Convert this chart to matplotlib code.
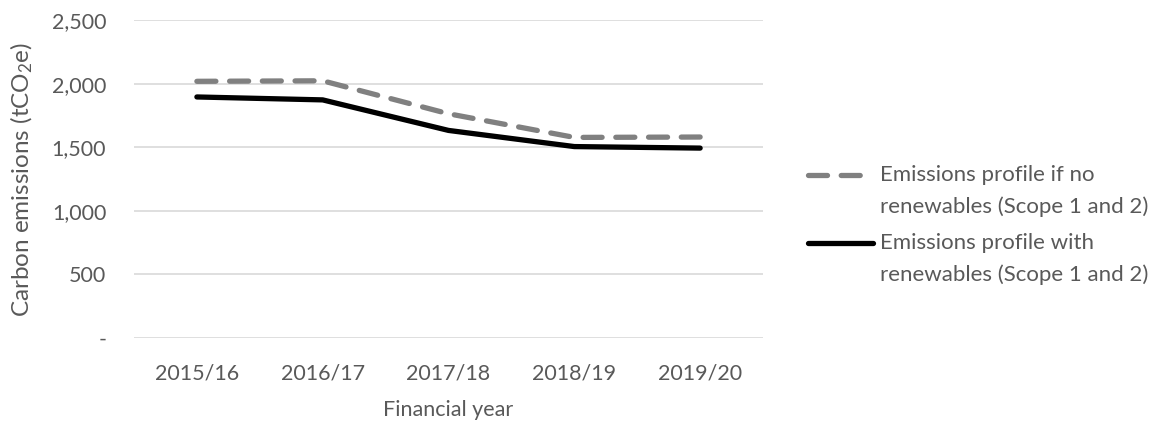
import matplotlib
matplotlib.use("Agg")
import matplotlib.pyplot as plt
from matplotlib.ticker import FuncFormatter, MultipleLocator
from matplotlib.legend_handler import HandlerLine2D

years = ["2015/16", "2016/17", "2017/18", "2018/19", "2019/20"]
no_renewables = [2018, 2022, 1763, 1577, 1580]
with_renewables = [1895, 1872, 1632, 1505, 1493]
label_no = "Emissions profile if no\nrenewables (Scope 1 and 2)"
label_with = "Emissions profile with\nrenewables (Scope 1 and 2)"

plt.rcParams['font.family'] = ['Lato', 'DejaVu Sans']
plt.rcParams['mathtext.fontset'] = 'custom'
plt.rcParams['mathtext.rm'] = 'Lato'
plt.rcParams['mathtext.it'] = 'Lato'
text_color = "#595959"


class TopAlignedHandler(HandlerLine2D):
    """Place the legend line next to the first line of a two-line label."""
    def create_artists(self, legend, orig_handle, xdescent, ydescent,
                       width, height, fontsize, trans):
        artists = super().create_artists(legend, orig_handle, xdescent, ydescent,
                                         width, height, fontsize, trans)
        for a in artists:
            yd = a.get_ydata()
            a.set_ydata([v + 0.72 * fontsize for v in yd])
        return artists


fig = plt.figure(figsize=(11.57, 4.22), dpi=100)
ax = fig.add_axes([0.1158, 0.199, 0.5437, 0.7536])

x = list(range(len(years)))
l1, = ax.plot(x, no_renewables, color="#808080", lw=3.8, dash_capstyle='round',
              dash_joinstyle='round', dashes=(3.6, 2.6), label=label_no)
l2, = ax.plot(x, with_renewables, color="black", lw=3.8, solid_capstyle='round',
              solid_joinstyle='round', label=label_with)

ax.set_xlim(-0.5, len(years) - 0.5)
ax.set_ylim(0, 2500)
ax.yaxis.set_major_locator(MultipleLocator(500))
ax.yaxis.set_major_formatter(FuncFormatter(lambda v, p: "-" if v == 0 else f"{int(v):,}"))
ax.set_xticks(x)
ax.set_xticklabels(years)
ax.grid(axis='y', color="#d9d9d9", lw=1.2)
ax.set_axisbelow(True)
for s in ax.spines.values():
    s.set_visible(False)
ax.tick_params(axis='both', length=0, labelsize=15.5, colors=text_color)
ax.tick_params(axis='y', pad=20)
ax.tick_params(axis='x', pad=18)
ax.set_xlabel("Financial year", fontsize=15.5, color=text_color, labelpad=12)
ax.set_ylabel("Carbon emissions (tCO$_2$e)", fontsize=17.5, color=text_color, labelpad=12)

leg = ax.legend(loc='center left', bbox_to_anchor=(1.04, 0.355), frameon=False,
                fontsize=16, handlelength=2.9, handletextpad=0.35, labelspacing=0.75,
                labelcolor=text_color,
                handler_map={l1: TopAlignedHandler(), l2: TopAlignedHandler()})
for t in leg.get_texts():
    t.set_linespacing(1.65)

fig.savefig("out.png", dpi=100)
